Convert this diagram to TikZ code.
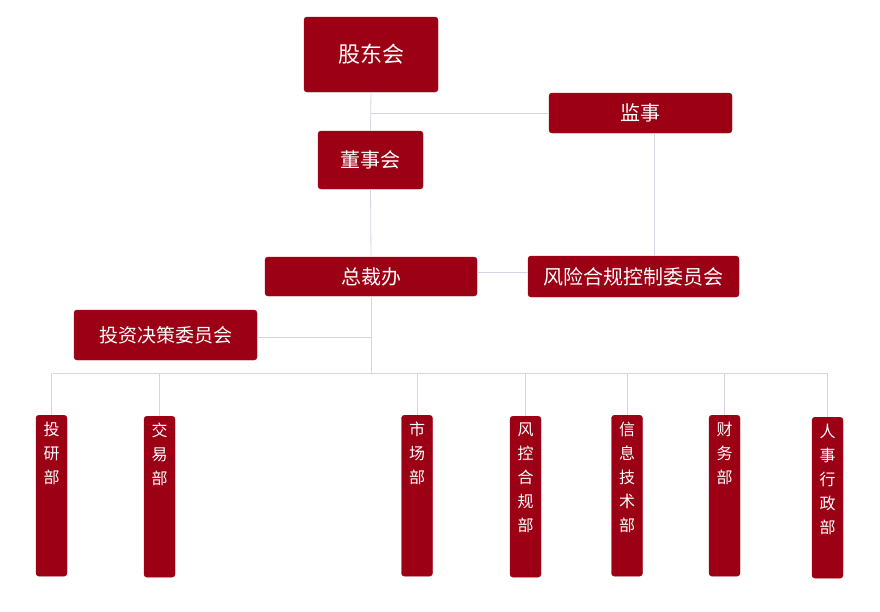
\documentclass[tikz,border=0pt]{standalone}
\usepackage{fontspec}
\setmainfont{Noto Sans CJK SC}
\definecolor{boxred}{HTML}{9B0014}
\definecolor{linec}{HTML}{D4D4E2}
\begin{document}
\begin{tikzpicture}[x=1pt,y=-1pt,
  box/.style={fill=boxred,draw=boxred,rounded corners=3pt,text=white,inner sep=0pt},
  vbox/.style={box,minimum width=31pt,minimum height=161pt},
  vtxt/.style={text=white,anchor=north,align=center,font=\fontsize{16}{24}\selectfont,inner sep=0pt},
  conn/.style={draw=linec,line width=0.8pt}]
\useasboundingbox (0,0) rectangle (880,611);
\node[box,minimum width=134pt,minimum height=75pt,font=\fontsize{22}{26}\selectfont] (gdh) at (371,54.5) {股东会};
\node[box,minimum width=183pt,minimum height=40pt,font=\fontsize{20}{24}\selectfont] (js) at (640.5,113) {监事};
\node[box,minimum width=105pt,minimum height=58pt,font=\fontsize{20}{24}\selectfont] (dsh) at (370.5,160) {董事会};
\node[box,minimum width=212pt,minimum height=39pt,font=\fontsize{20}{24}\selectfont] (zcb) at (371,276.5) {总裁办};
\node[box,minimum width=211pt,minimum height=41pt,font=\fontsize{20}{24}\selectfont] (fx) at (633.5,276.5) {风险合规控制委员会};
\node[box,minimum width=183pt,minimum height=50pt,font=\fontsize{19}{24}\selectfont] (tz) at (165.5,335) {投资决策委员会};
\coordinate (bus) at (371,373);
\coordinate (j1) at (371,113);
\coordinate (j2) at (654,113);
\coordinate (j3) at (371,337);
\draw[conn] (gdh.south) -- (dsh.north);
\draw[conn] (j1) -- (js.west);
\draw[conn] (654,133) -- (fx.north -| 654,0);
\draw[conn] (dsh.south) -- (zcb.north);
\draw[conn] (zcb.south) -- (bus);
\draw[conn] (zcb.east |- 0,272) -- (fx.west |- 0,272);
\draw[conn] (tz.east |- j3) -- (j3);
\draw[conn] (53,373) -- (828,373);
\foreach \n/\x/\y/\t in {a/51.5/415/投\\研\\部, b/159.5/416/交\\易\\部, c/417/415/市\\场\\部, d/525.5/416/风\\控\\合\\规\\部, e/627/415/信\\息\\技\\术\\部, f/724.5/415/财\\务\\部, g/827.5/417/人\\事\\行\\政\\部}{
  \node[vbox,anchor=north] (\n) at (\x,\y) {};
  \node[vtxt] (\n t) at ([yshift=-7pt]\n.north) {\t};
  \draw[conn] (\x,373) -- (\n.north);
}
\end{tikzpicture}
\end{document}
